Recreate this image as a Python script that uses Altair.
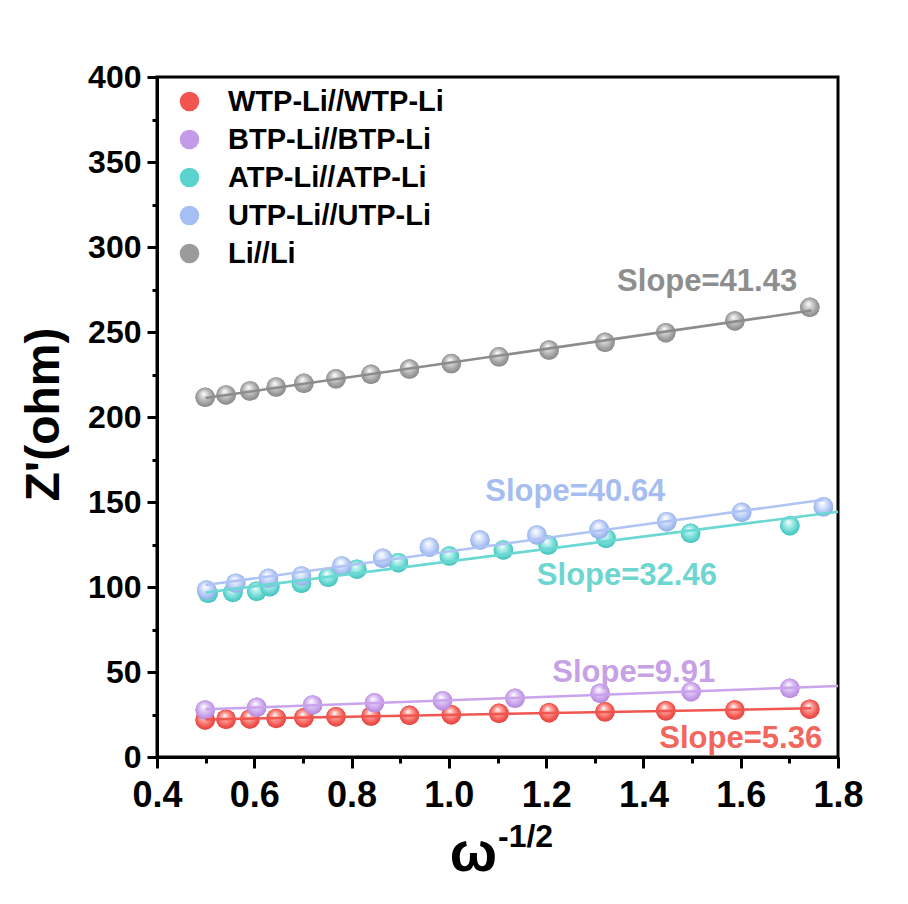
import altair as alt
import pandas as pd

# ---------------- data ----------------
series_names = ["WTP-Li//WTP-Li", "BTP-Li//BTP-Li", "ATP-Li//ATP-Li", "UTP-Li//UTP-Li", "Li//Li"]
base_colors = ["#F2554F", "#C49BE8", "#5BD3CD", "#A6BFF2", "#9B9B9B"]
light_colors = ["#FFB0AA", "#E8D4F8", "#B8F0EC", "#E2EBFD", "#D8D8D8"]
dark_colors = ["#D83A35", "#A77CCB", "#3DB5AF", "#85A2DA", "#7E7E7E"]
line_colors = ["#F0554F", "#C9A4EC", "#6AD8D3", "#AFC3F5", "#8C8C8C"]
line_ends = [1.745, 1.8, 1.8, 1.77, 1.745]

x_wtp = [0.499, 0.542, 0.591, 0.645, 0.702, 0.768, 0.840, 0.919, 1.005, 1.103, 1.206, 1.321, 1.446, 1.588, 1.742]
z_wtp = [21.8, 22.2, 22.4, 22.7, 23.1, 23.7, 24.1, 24.5, 24.9, 25.7, 26.1, 26.6, 27.2, 27.6, 28.1]

x_btp = [0.499, 0.605, 0.720, 0.847, 0.987, 1.136, 1.311, 1.498, 1.701]
z_btp = [27.6, 29.2, 30.6, 31.9, 33.1, 34.5, 37.5, 38.4, 40.4]

x_atp = [0.505, 0.556, 0.605, 0.632, 0.697, 0.752, 0.811, 0.896, 1.001, 1.112, 1.204, 1.323, 1.497, 1.701]
z_atp = [96.3, 96.8, 97.5, 100.2, 102.2, 105.7, 110.5, 114.3, 118.2, 121.8, 124.7, 128.6, 131.6, 136.1]

x_utp = [0.502, 0.562, 0.629, 0.697, 0.780, 0.864, 0.960, 1.064, 1.181, 1.309, 1.448, 1.602, 1.770]
z_utp = [98.2, 102.2, 105.1, 106.5, 112.4, 116.9, 123.4, 127.6, 130.6, 133.9, 138.4, 143.9, 147.2]

x_li = [0.499, 0.542, 0.591, 0.645, 0.702, 0.768, 0.840, 0.919, 1.005, 1.103, 1.206, 1.321, 1.446, 1.588, 1.742]
z_li = [211.6, 213.0, 215.3, 217.6, 219.8, 222.5, 225.1, 228.2, 231.4, 235.4, 239.4, 243.9, 249.6, 256.5, 264.5]

slope_texts = ["Slope=5.36", "Slope=9.91", "Slope=32.46", "Slope=40.64", "Slope=41.43"]
slope_x = [1.600, 1.380, 1.366, 1.260, 1.531]
slope_y = [10.6, 49.7, 106.5, 155.6, 279.4]
slope_colors = ["#F2665E", "#C7A1E6", "#6ED6D1", "#A6BDF0", "#8E8E8E"]

x_ticks = [0.4, 0.6, 0.8, 1.0, 1.2, 1.4, 1.6, 1.8]
x_minor = [0.5, 0.7, 0.9, 1.1, 1.3, 1.5, 1.7]
y_ticks = [0, 50, 100, 150, 200, 250, 300, 350, 400]
y_minor = [25, 75, 125, 175, 225, 275, 325, 375]

# ---------------- build tables ----------------
xs_all = [x_wtp, x_btp, x_atp, x_utp, x_li]
zs_all = [z_wtp, z_btp, z_atp, z_utp, z_li]
rows = []
for name, xs, zs in zip(series_names, xs_all, zs_all):
    for xv, zv in zip(xs, zs):
        rows.append({"x": xv, "z": zv, "series": name})
df = pd.DataFrame(rows)
labels_df = pd.DataFrame({"x": slope_x, "z": slope_y, "text": slope_texts, "color": slope_colors})

FONT = "Liberation Sans, Arial, Helvetica, sans-serif"
W, H = 681, 680
PT = 380

xs = alt.Scale(domain=[0.4, 1.8], nice=False, zero=False)
ys = alt.Scale(domain=[0, 400], nice=False, zero=False)

base = alt.Chart(df)

# flat points with legend + main axes
flat = base.mark_circle(size=PT, opacity=1).encode(
    x=alt.X("x:Q", scale=xs, axis=alt.Axis(
        orient="bottom", values=x_ticks, format=".1f", title=None, grid=False,
        tickSize=11, tickWidth=3, tickColor="black", domainWidth=3, domainColor="black",
        labelFont=FONT, labelFontSize=36, labelFontWeight="bold", labelColor="black",
        labelPadding=10, labelFlush=False)),
    y=alt.Y("z:Q", scale=ys, axis=alt.Axis(
        orient="left", values=y_ticks, title="Z'(ohm)", grid=False,
        tickSize=10, tickWidth=3, tickColor="black", domainWidth=3, domainColor="black",
        labelFont=FONT, labelFontSize=32, labelFontWeight="bold", labelColor="black",
        labelPadding=6, labelFlush=False,
        titleFont=FONT, titleFontSize=48, titleFontWeight="bold", titleColor="black",
        titleAngle=270, titleBaseline="middle", titleAlign="center",
        titleX=-113, titleY=337)),
    color=alt.Color("series:N", scale=alt.Scale(domain=series_names, range=base_colors),
                    sort=series_names,
                    legend=alt.Legend(title=None, orient="none", legendX=18, legendY=10,
                                      symbolType="circle", symbolSize=PT, symbolStrokeWidth=0,
                                      symbolOpacity=1,
                                      labelFont=FONT, labelFontSize=29, labelFontWeight="bold",
                                      labelColor="black", labelOffset=24, labelLimit=500,
                                      rowPadding=8, padding=0)),
)

# minor ticks
minor = base.mark_circle(opacity=0, size=1).encode(
    x=alt.X("x:Q", scale=xs, axis=alt.Axis(
        orient="bottom", values=x_minor, labels=False, title=None, grid=False, domain=False,
        tickSize=6, tickWidth=3, tickColor="black")),
    y=alt.Y("z:Q", scale=ys, axis=alt.Axis(
        orient="left", values=y_minor, labels=False, title=None, grid=False, domain=False,
        tickSize=5, tickWidth=3, tickColor="black")),
)

layers = [flat, minor]

# shaded spheres on top of the flat points
for name, bc, lc, dc in zip(series_names, base_colors, light_colors, dark_colors):
    grad = alt.RadialGradient(
        gradient="radial",
        stops=[alt.GradientStop(color="#FFFFFF", offset=0.0),
               alt.GradientStop(color=lc, offset=0.25),
               alt.GradientStop(color=bc, offset=0.7),
               alt.GradientStop(color=dc, offset=1.0)],
        x1=0.42, y1=0.3, r1=0.0, x2=0.5, y2=0.5, r2=0.6)
    layers.append(
        base.transform_filter(alt.datum.series == name).mark_circle(size=PT, opacity=1, fill=grad).encode(
            x=alt.X("x:Q", scale=xs, axis=None),
            y=alt.Y("z:Q", scale=ys, axis=None),
        )
    )

# fitted lines
for name, lc, xe in zip(series_names, line_colors, line_ends):
    layers.append(
        base.transform_filter(alt.datum.series == name)
        .transform_regression("x", "z", extent=[0.5, xe])
        .mark_line(color=lc, strokeWidth=2.5)
        .encode(x=alt.X("x:Q", scale=xs, axis=None), y=alt.Y("z:Q", scale=ys, axis=None))
    )

# slope annotations
layers.append(
    alt.Chart(labels_df).mark_text(font=FONT, fontSize=31, fontWeight="bold", align="center", baseline="middle")
    .encode(x=alt.X("x:Q", scale=xs, axis=None), y=alt.Y("z:Q", scale=ys, axis=None),
            text="text:N", color=alt.Color("color:N", scale=None))
)

# x-axis title: omega with superscript
layers.append(
    alt.Chart(pd.DataFrame({"t": ["ω"]})).mark_text(font=FONT, fontSize=56, fontWeight="bold",
                                                    align="right", baseline="alphabetic", color="black")
    .encode(text="t:N", x=alt.value(340), y=alt.value(H + 114))
)
layers.append(
    alt.Chart(pd.DataFrame({"t": ["-1/2"]})).mark_text(font=FONT, fontSize=32, fontWeight="bold",
                                                       align="left", baseline="alphabetic", color="black")
    .encode(text="t:N", x=alt.value(341), y=alt.value(H + 90))
)

chart = alt.layer(*layers).resolve_axis(x="independent", y="independent").properties(
    width=W, height=H,
    autosize=alt.AutoSizeParams(type="none"),
    padding={"left": 149, "top": 69, "right": 50, "bottom": 130},
    background="white",
).configure_view(stroke="black", strokeWidth=3)

chart.save("out.html", embed_options={"renderer": "svg", "actions": False})
